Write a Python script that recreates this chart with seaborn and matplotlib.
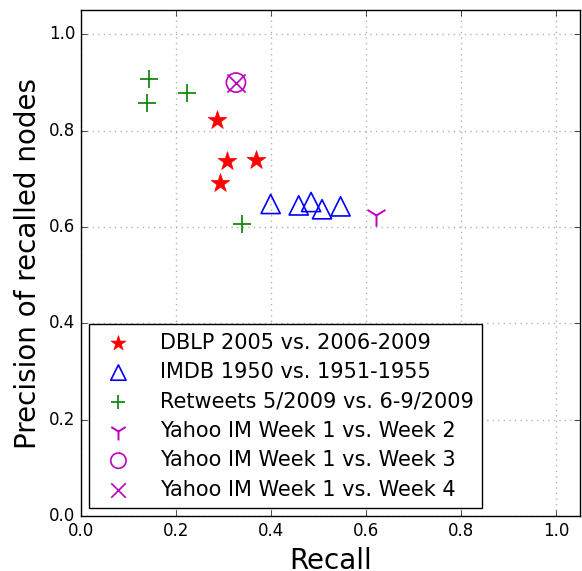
import matplotlib
matplotlib.use("Agg")
import seaborn as sns
import pandas as pd
from matplotlib import pyplot as plt

plt.style.use('classic')
plt.rcParams['font.family'] = ['DejaVu Sans']

# DATA

dblp_recall = [0.287, 0.307, 0.369, 0.292]
dblp_prec = [0.822, 0.737, 0.739, 0.691]

imdb_recall = [0.399, 0.458, 0.484, 0.507, 0.546]
imdb_prec = [0.648, 0.645, 0.652, 0.637, 0.643]

rt_recall = [0.143, 0.138, 0.223, 0.338]
rt_prec = [0.907, 0.858, 0.878, 0.606]

yim2_recall = [0.620]
yim2_prec = [0.625]

yim3_recall = [0.326]
yim3_prec = [0.900]

yim4_recall = [0.326]
yim4_prec = [0.900]

labels = [
    'DBLP 2005 vs. 2006-2009',
    'IMDB 1950 vs. 1951-1955',
    'Retweets 5/2009 vs. 6-9/2009',
    'Yahoo IM Week 1 vs. Week 2',
    'Yahoo IM Week 1 vs. Week 3',
    'Yahoo IM Week 1 vs. Week 4',
]

series = [
    (dblp_recall, dblp_prec, '*', 'r', True),
    (imdb_recall, imdb_prec, '^', 'b', False),
    (rt_recall, rt_prec, '+', 'g', True),
    (yim2_recall, yim2_prec, '1', 'm', True),
    (yim3_recall, yim3_prec, 'o', 'm', False),
    (yim4_recall, yim4_prec, 'x', 'm', True),
]

fig = plt.figure(figsize=(5.82, 5.71), dpi=100, facecolor='white')
ax = fig.add_axes([0.139, 0.096, 0.858, 0.886])

for (xs, ys, mk, col, filled), lab in zip(series, labels):
    df = pd.DataFrame({'Recall': xs, 'Precision': ys})
    if mk == '*':
        sns.scatterplot(data=df, x='Recall', y='Precision', marker=mk,
                        color=col, edgecolor=col, s=200, linewidth=0.5,
                        label=lab, ax=ax, zorder=3)
    elif mk == '1':
        sns.scatterplot(data=df, x='Recall', y='Precision', marker=mk,
                        color=col, s=260, linewidth=1.4,
                        label=lab, ax=ax, zorder=3)
    elif filled:
        sns.scatterplot(data=df, x='Recall', y='Precision', marker=mk,
                        color=col, s=170, linewidth=1.2,
                        label=lab, ax=ax, zorder=3)
    else:
        sns.scatterplot(data=df, x='Recall', y='Precision', marker=mk,
                        facecolors='none', edgecolor=col, s=190, linewidth=1.2,
                        label=lab, ax=ax, zorder=3)

ax.set_xlim(0, 1.05)
ax.set_ylim(0, 1.05)
ax.set_xticks([0.0, 0.2, 0.4, 0.6, 0.8, 1.0])
ax.set_yticks([0.0, 0.2, 0.4, 0.6, 0.8, 1.0])
ax.grid(True, linestyle=':', color='0.7', linewidth=1)
ax.set_axisbelow(True)
ax.set_xlabel('Recall', fontsize=20)
ax.set_ylabel('Precision of recalled nodes', fontsize=20)
ax.tick_params(labelsize=12)

ax.legend(loc='lower left', fontsize=15, scatterpoints=1, markerscale=0.8,
          frameon=True, fancybox=False, edgecolor='black', borderaxespad=0.4,
          handletextpad=1.0, labelspacing=0.45)

plt.savefig('out.png', dpi=100, facecolor='white')
